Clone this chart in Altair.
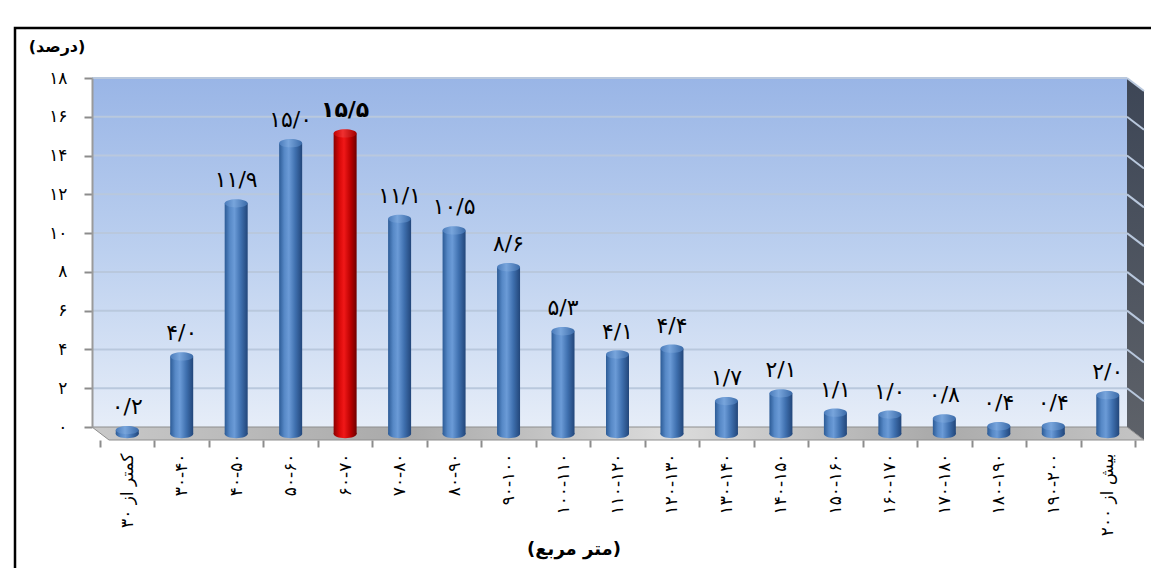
import altair as alt
import pandas as pd

# ---------------- data ----------------
categories = ["کمتر از ۳۰", "۳۰-۴۰", "۴۰-۵۰", "۵۰-۶۰", "۶۰-۷۰", "۷۰-۸۰", "۸۰-۹۰",
              "۹۰-۱۰۰", "۱۰۰-۱۱۰", "۱۱۰-۱۲۰", "۱۲۰-۱۳۰", "۱۳۰-۱۴۰", "۱۴۰-۱۵۰",
              "۱۵۰-۱۶۰", "۱۶۰-۱۷۰", "۱۷۰-۱۸۰", "۱۸۰-۱۹۰", "۱۹۰-۲۰۰", "بیش از ۲۰۰"]
values = [0.2, 4.0, 11.9, 15.0, 15.5, 11.1, 10.5, 8.6, 5.3, 4.1, 4.4,
          1.7, 2.1, 1.1, 1.0, 0.8, 0.4, 0.4, 2.0]
highlight = "۶۰-۷۰"
y_ticks = [0, 2, 4, 6, 8, 10, 12, 14, 16, 18]
y_tick_labels = ["۰", "۲", "۴", "۶", "۸", "۱۰", "۱۲", "۱۴", "۱۶", "۱۸"]
y_title = "(درصد)"
x_title = "(متر مربع)"

FA = str.maketrans("0123456789.", "۰۱۲۳۴۵۶۷۸۹/")
labels = [f"{v:.1f}".translate(FA) for v in values]

df = pd.DataFrame({"cat": categories, "v": values, "lab": labels,
                   "hl": [c == highlight for c in categories]})
grid_df = pd.DataFrame({"t": y_ticks})

W, H = 1035, 349
FONT = "DejaVu Sans"

xs = alt.X("cat:N", sort=categories, scale=alt.Scale(paddingInner=0, paddingOuter=0),
           axis=alt.Axis(title=None, labelAngle=-90, labelFontSize=17, labelFont=FONT,
                         labelColor="black", tickBand="extent", tickOffset=9, offset=13,
                         tickSize=7, tickColor="#8c8c8c", tickWidth=2, domain=False,
                         labelPadding=6, grid=False, zindex=1))
yscale = alt.Scale(domain=[0, 18], nice=False)
label_expr = "[" + ",".join(f"'{s}'" for s in y_tick_labels) + "][round(datum.value/2)]"
yaxis = alt.Axis(title=None, values=y_ticks, labelExpr=label_expr, offset=8,
                 labelFontSize=17, labelFont=FONT, labelColor="black",
                 tickSize=8, tickColor="#8c8c8c", tickWidth=2,
                 domainColor="#9a9a9a", domainWidth=2, labelPadding=17, grid=False,
                 zindex=1)

def Y(field):
    return alt.Y(field, scale=yscale, axis=yaxis)

def lg(stops, horizontal=True):
    return alt.LinearGradient(
        gradient="linear",
        stops=[alt.GradientStop(color=c, offset=o) for o, c in stops],
        x1=0, x2=1 if horizontal else 0, y1=0, y2=0 if horizontal else 1)

bg_grad = lg([(0, "#99b5e6"), (0.5, "#bcd0ef"), (1, "#e6edf8")], horizontal=False)
blue_grad = lg([(0, "#2c5b96"), (0.22, "#5688c6"), (0.42, "#6b9bd7"), (0.7, "#3f70af"), (1, "#22467a")])
blue_cap = lg([(0, "#4a7bba"), (0.4, "#78a5dc"), (1, "#3a6aa8")])
red_grad = lg([(0, "#8a0000"), (0.25, "#d80808"), (0.45, "#f01818"), (0.75, "#b80000"), (1, "#6e0000")])
red_cap = lg([(0, "#c00000"), (0.4, "#f03030"), (1, "#a00000")])
floor_grad = lg([(0, "#c9c9c9"), (0.3, "#a9a9a9"), (0.55, "#dcdcdc"), (0.8, "#aaaaaa"), (1, "#c4c4c4")])
wall_grad = lg([(0, "#3d4656"), (1, "#5e6269")], horizontal=False)

base = alt.Chart(df)

frame = alt.Chart(grid_df.head(1)).mark_rect(fill="white", stroke="black", strokeWidth=2.5).encode(
    x=alt.value(-85), x2=alt.value(1200), y=alt.value(-50), y2=alt.value(600))

plot_bg = alt.Chart(grid_df.head(1)).mark_rect(color=bg_grad).encode(
    x=alt.value(-8), x2=alt.value(1027), y=alt.value(0), y2=alt.value(H))

grid = alt.Chart(grid_df[grid_df.t > 0]).mark_rule(color="#b9c8dd", strokeWidth=2).encode(
    x=alt.value(-8), x2=alt.value(1027), y=Y("t:Q"))

wall = alt.Chart(grid_df.head(1)).mark_point(
    shape="M0,0 L17,13 L17,362 L0,349 Z", size=4, filled=True, opacity=1,
    fill=wall_grad, strokeWidth=0).encode(x=alt.value(1027), y=alt.value(0))

wall_lines = alt.Chart(grid_df[grid_df.t > 0]).mark_rule(
    color="#b9c8dd", strokeWidth=2, y2Offset=13).encode(
    x=alt.value(1027), x2=alt.value(1044), y=Y("t:Q"), y2="t:Q")

floor = alt.Chart(grid_df.head(1)).mark_point(
    shape="M-8,349 L1027,349 L1044,362 L9,362 Z", size=4, filled=True, opacity=1,
    fill=floor_grad, stroke="#8e8e8e", strokeWidth=1).encode(x=alt.value(0), y=alt.value(0))

ELL = "M-1,0 A1,0.36 0 1,1 1,0 A1,0.36 0 1,1 -1,0 Z"
BW = 23
ell_size = BW * BW

def cyl(is_hl, body, cap):
    b = base.transform_filter(alt.datum.hl == is_hl)
    bottom = b.mark_point(shape=ELL, size=ell_size, filled=True, opacity=1, fill=body,
                          strokeWidth=0, yOffset=7).encode(
        x=xs, y=Y("zero:Q")).transform_calculate(zero="0")
    body_m = b.mark_bar(width=BW, fill=body, yOffset=7, y2Offset=7).encode(
        x=xs, y=Y("v:Q"), y2=alt.datum(0))
    cap_m = b.mark_point(shape=ELL, size=ell_size, filled=True, opacity=1, fill=cap,
                         strokeWidth=0, yOffset=7).encode(x=xs, y=Y("v:Q"))
    return [bottom, body_m, cap_m]

text_norm = base.transform_filter(alt.datum.hl == False).mark_text(
    font=FONT, fontSize=22, color="black", baseline="alphabetic", dy=-9).encode(
    x=xs, y=Y("v:Q"), text="lab:N")
text_hl = base.transform_filter(alt.datum.hl == True).mark_text(
    font=FONT, fontSize=22, fontWeight="bold", color="black", baseline="alphabetic", dy=-9).encode(
    x=xs, y=Y("v:Q"), text="lab:N")

ytitle = alt.Chart(grid_df.head(1)).mark_text(
    font=FONT, fontSize=16, fontWeight="bold", color="black").encode(
    x=alt.value(-43), y=alt.value(-31), text=alt.value(y_title))
xtitle = alt.Chart(grid_df.head(1)).mark_text(
    font=FONT, fontSize=18, fontWeight="bold", color="black").encode(
    x=alt.value(474), y=alt.value(472), text=alt.value(x_title))

layers = [frame, plot_bg, grid, wall, wall_lines, floor] + cyl(False, blue_grad, blue_cap) + \
         cyl(True, red_grad, red_cap) + [text_norm, text_hl, ytitle, xtitle]

chart = alt.layer(*layers).properties(
    width=W, height=H,
    autosize=alt.AutoSizeParams(type="none"),
    padding={"left": 92, "top": 70, "right": 16, "bottom": 141},
).configure_view(stroke=None).configure(background="white")

chart.save("out.html", embed_options={"renderer": "svg", "actions": False})
